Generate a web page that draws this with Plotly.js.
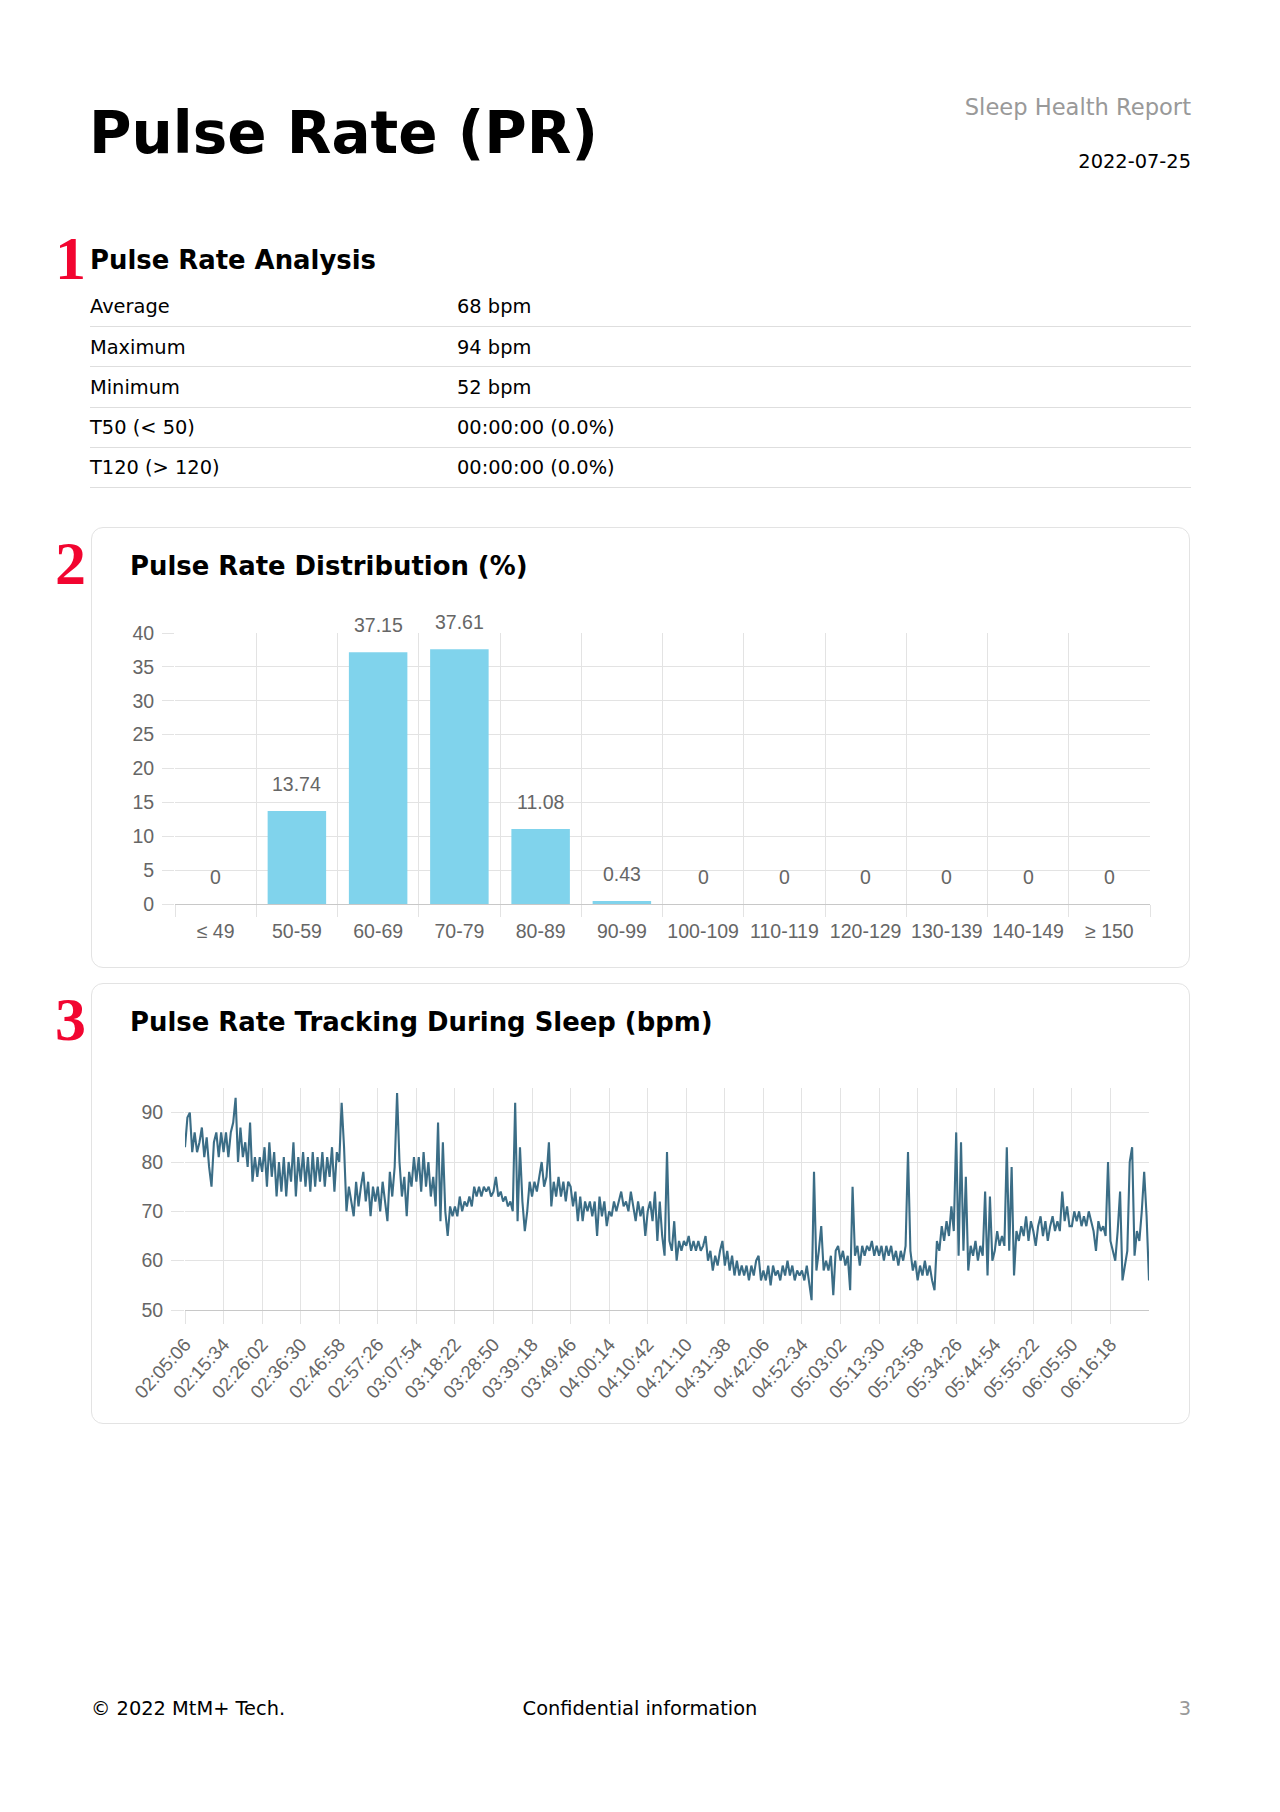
<!DOCTYPE html>
<html>
<head>
<meta charset="utf-8">
<script src="https://cdn.plot.ly/plotly-3.0.1.min.js"></script>
<style>
html,body{margin:0;padding:0;background:#fff;}
body{width:1280px;height:1812px;position:relative;font-family:"DejaVu Sans",sans-serif;color:#000;overflow:hidden;}
.t{position:absolute;white-space:nowrap;line-height:1;}
.b{font-weight:bold;}
.num{position:absolute;font-family:"Liberation Serif","Times New Roman",serif;font-weight:bold;color:#f20530;font-size:62px;line-height:1;}
.card{position:absolute;left:91px;width:1099px;height:441px;border:1px solid #e3e3e3;border-radius:12px;box-sizing:border-box;}
.rule{position:absolute;left:90px;width:1101px;height:0;border-top:1px solid #dedede;}
.plot{position:absolute;}
</style>
</head>
<body>
<div class="t b" style="left:89px;top:104px;font-size:58px;">Pulse Rate (PR)</div>
<div class="t" style="right:89px;top:96px;font-size:22.6px;color:#999;">Sleep Health Report</div>
<div class="t" style="right:89px;top:151.9px;font-size:19.4px;">2022-07-25</div>

<div class="num" style="left:55px;top:227px;">1</div>
<div class="t b" style="left:90px;top:248.2px;font-size:25.9px;">Pulse Rate Analysis</div>
<div id="table"></div>

<div class="card" style="top:527px;"></div>
<div class="num" style="left:55px;top:532px;">2</div>
<div class="t b" style="left:130px;top:554.1px;font-size:25.9px;">Pulse Rate Distribution (%)</div>
<div id="bar" class="plot" style="left:100px;top:600px;width:1080px;height:380px;"></div>

<div class="card" style="top:983px;"></div>
<div class="num" style="left:55px;top:988px;">3</div>
<div class="t b" style="left:130px;top:1010.1px;font-size:25.9px;">Pulse Rate Tracking During Sleep (bpm)</div>
<div id="line" class="plot" style="left:100px;top:1050px;width:1080px;height:370px;"></div>

<div class="t" style="left:91px;top:1698.6px;font-size:19.4px;">© 2022 MtM+ Tech.</div>
<div class="t" style="left:0;width:1280px;text-align:center;top:1698.6px;font-size:19.4px;">Confidential information</div>
<div class="t" style="right:89px;top:1698.6px;font-size:19.4px;color:#999;">3</div>

<script>
// ---------- data ----------
const statLabels = ['Average', 'Maximum', 'Minimum', 'T50 (< 50)', 'T120 (> 120)'];
const statValues = ['68 bpm', '94 bpm', '52 bpm', '00:00:00 (0.0%)', '00:00:00 (0.0%)'];

const binLabels = ['≤ 49', '50-59', '60-69', '70-79', '80-89', '90-99', '100-109', '110-119', '120-129', '130-139', '140-149', '≥ 150'];
const binPercent = [0, 13.74, 37.15, 37.61, 11.08, 0.43, 0, 0, 0, 0, 0, 0];

const trackStart = '02:05:06';
const sampleSeconds = 39.25;
const trackTickLabels = ['02:05:06', '02:15:34', '02:26:02', '02:36:30', '02:46:58', '02:57:26', '03:07:54', '03:18:22', '03:28:50', '03:39:18', '03:49:46', '04:00:14', '04:10:42', '04:21:10', '04:31:38', '04:42:06', '04:52:34', '05:03:02', '05:13:30', '05:23:58', '05:34:26', '05:44:54', '05:55:22', '06:05:50', '06:16:18'];
const pulseBpm = [
  83,89,90,82,86,82,84,87,81,85,79,75,84,86,81,86,
  82,86,81,86,88,93,80,87,81,84,79,88,76,81,77,81,
  78,83,75,84,77,82,73,80,74,81,73,80,76,84,73,81,
  76,82,75,81,74,82,75,81,76,82,75,81,77,83,74,82,
  80,92,83,70,75,72,69,76,71,75,78,72,76,69,75,72,
  75,70,76,72,68,78,73,79,94,80,73,77,69,78,75,81,
  76,81,74,82,75,80,73,77,71,88,68,84,70,65,71,69,
  71,69,73,70,72,71,73,71,75,73,75,73,75,74,75,73,
  74,77,73,74,72,73,71,72,70,92,68,83,72,66,70,76,
  73,76,74,77,80,75,77,84,71,76,73,77,73,76,72,76,
  75,71,74,68,73,68,72,70,72,69,72,65,73,69,72,67,
  70,69,72,70,72,74,71,72,70,74,71,68,72,69,71,65,
  70,72,68,74,64,72,65,61,82,64,62,68,60,64,62,64,
  63,65,62,64,62,64,62,63,65,60,62,58,61,59,62,64,
  59,62,58,61,57,60,57,59,57,59,56,59,57,60,61,56,
  58,56,59,55,59,57,58,56,59,57,60,57,59,56,58,57,
  58,56,59,55,52,78,58,62,67,58,60,58,61,53,62,63,
  60,62,59,61,54,75,61,63,59,63,61,63,62,64,61,63,
  61,63,60,63,61,63,60,62,59,62,60,63,82,62,58,60,
  56,59,57,60,57,59,56,54,64,62,67,64,68,65,71,66,
  86,61,84,62,77,58,63,61,64,60,63,61,74,57,73,60,
  62,66,63,65,63,83,62,79,57,66,64,67,65,69,64,68,
  66,63,67,69,65,68,64,67,69,66,68,66,74,68,71,67,
  67,70,68,70,67,69,67,70,68,66,62,68,66,67,65,80,
  64,62,60,66,74,56,59,62,80,83,61,66,64,70,78,69,
  56
];

// ---------- table ----------
const table = document.getElementById('table');
statLabels.forEach((lab, i) => {
  const lineY = 326.7 + i * 40.25;
  const top = (lineY - 29.4) + 'px';
  const a = document.createElement('div');
  a.className = 't'; a.style.left = '90px'; a.style.top = top; a.style.fontSize = '19.4px';
  a.textContent = lab; table.appendChild(a);
  const v = document.createElement('div');
  v.className = 't'; v.style.left = '457px'; v.style.top = top; v.style.fontSize = '19.4px';
  v.textContent = statValues[i]; table.appendChild(v);
  const r = document.createElement('div');
  r.className = 'rule'; r.style.top = (lineY - 0.5) + 'px'; table.appendChild(r);
});

const FONT = 'Liberation Sans, Arial, sans-serif';
const GRID = '#e3e3e3';
const AXIS = '#c8c8c8';
const TXT = '#666666';

// ---------- bar chart ----------
Plotly.newPlot('bar', [{
  type: 'bar',
  x: binLabels,
  y: binPercent,
  marker: { color: '#80d3ec', line: { width: 0 } },
  hoverinfo: 'skip'
}], {
  width: 1080, height: 380,
  margin: { l: 75, r: 30, t: 33, b: 76 },
  paper_bgcolor: 'rgba(0,0,0,0)', plot_bgcolor: 'rgba(0,0,0,0)',
  bargap: 0.28,
  showlegend: false,
  font: { family: FONT, size: 19, color: TXT },
  xaxis: {
    type: 'category', tickson: 'boundaries', range: [-0.5, 11.5],
    ticks: 'outside', ticklen: 12, tickcolor: GRID, tickwidth: 1,
    showgrid: true, gridcolor: GRID, gridwidth: 1,
    showline: true, linecolor: AXIS, linewidth: 1,
    tickfont: { family: FONT, size: 19.5, color: TXT }, ticklabelstandoff: 10,
    fixedrange: true
  },
  yaxis: {
    range: [0, 40], tick0: 0, dtick: 5,
    ticks: 'outside', ticklen: 12, tickcolor: GRID, tickwidth: 1,
    showgrid: true, gridcolor: GRID, gridwidth: 1, zeroline: false, showline: false,
    tickfont: { family: FONT, size: 19.5, color: TXT }, ticklabelstandoff: 4,
    fixedrange: true
  },
  annotations: binLabels.map((c, i) => ({
    x: c, y: binPercent[i], xref: 'x', yref: 'y',
    text: String(binPercent[i]), showarrow: false,
    yanchor: 'middle', xanchor: 'center', yshift: 27,
    font: { family: FONT, size: 19.5, color: TXT }
  }))
}, { staticPlot: true, displayModeBar: false });

// ---------- line chart ----------
function toMs(hms) {
  const p = hms.split(':').map(Number);
  return Date.UTC(2022, 6, 25, p[0], p[1], p[2]);
}
const t0 = toMs(trackStart);
const times = pulseBpm.map((_, i) => t0 + i * sampleSeconds * 1000);
const tickVals = trackTickLabels.map(toMs);

Plotly.newPlot('line', [{
  type: 'scatter', mode: 'lines',
  x: times, y: pulseBpm,
  line: { color: '#3b6d86', width: 2.1 },
  hoverinfo: 'skip'
}], {
  width: 1080, height: 370,
  margin: { l: 85, r: 31, t: 38, b: 110 },
  paper_bgcolor: 'rgba(0,0,0,0)', plot_bgcolor: 'rgba(0,0,0,0)',
  showlegend: false,
  font: { family: FONT, size: 19, color: TXT },
  xaxis: {
    type: 'date', range: [times[0], times[times.length - 1]],
    tickmode: 'array', tickvals: tickVals, ticktext: trackTickLabels, tickangle: -48,
    ticks: 'outside', ticklen: 13, tickcolor: GRID, tickwidth: 1,
    showgrid: true, gridcolor: GRID, gridwidth: 1,
    showline: true, linecolor: AXIS, linewidth: 1,
    tickfont: { family: FONT, size: 18.8, color: TXT }, ticklabelstandoff: 2,
    fixedrange: true
  },
  yaxis: {
    range: [50, 95], tickmode: 'array', tickvals: [50, 60, 70, 80, 90],
    ticks: 'outside', ticklen: 13, tickcolor: GRID, tickwidth: 1,
    showgrid: true, gridcolor: GRID, gridwidth: 1, zeroline: false, showline: false,
    tickfont: { family: FONT, size: 19.5, color: TXT }, ticklabelstandoff: 4,
    fixedrange: true
  }
}, { staticPlot: true, displayModeBar: false });
</script>
</body>
</html>
